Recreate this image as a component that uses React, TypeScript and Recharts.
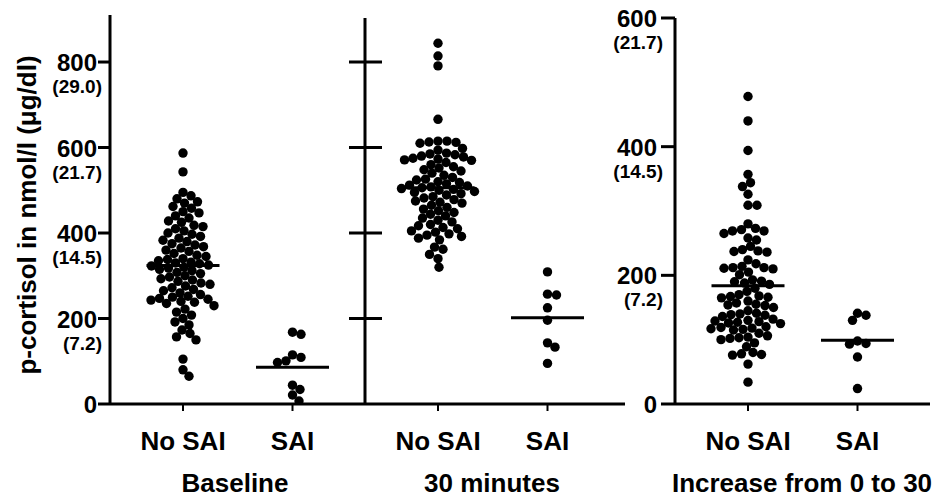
import { ScatterChart, Scatter, XAxis, YAxis, ReferenceLine } from "recharts";

const categories = ["No SAI", "SAI"];
const categoryPos = [1, 2.5];
const panelTitles = ["Baseline", "30 minutes", "Increase from 0 to 30"];
const yTitle = "p-cortisol in nmol/l (μg/dl)";

const ticksNmol = [0, 200, 400, 600, 800];
const ticksUg = ["", "(7.2)", "(14.5)", "(21.7)", "(29.0)"];
const ticksIncrease = [0, 200, 400, 600];
const ticksIncreaseUg = ["", "(7.2)", "(14.5)", "(21.7)"];

const baselineNoSai = [
  587, 543, 495, 487, 480, 473, 470, 462, 458, 450, 447, 440, 435, 428, 425, 418,
  415, 410, 405, 400, 397, 392, 388, 383, 380, 375, 372, 368, 365, 360, 357, 352,
  348, 345, 340, 338, 335, 332, 330, 328, 325, 323, 320, 318, 315, 312, 308, 305,
  300, 297, 293, 290, 287, 283, 280, 276, 272, 268, 265, 260, 256, 252, 250, 247,
  245, 243, 240, 238, 235, 230, 222, 215, 208, 200, 192, 185, 173, 165, 157, 150,
  105, 80, 65,
];
const baselineSai = [168, 163, 115, 109, 101, 97, 44, 34, 21, 7];

const min30NoSai = [
  844, 814, 791, 666, 615, 615, 613, 612, 610, 598, 594, 587, 585, 583, 580, 578,
  575, 573, 571, 570, 565, 560, 555, 552, 548, 545, 540, 535, 530, 526, 524, 520,
  518, 515, 512, 510, 508, 506, 504, 502, 500, 497, 495, 492, 489, 485, 482, 478,
  475, 472, 470, 465, 460, 456, 452, 448, 444, 440, 435, 430, 426, 420, 417, 413,
  410, 405, 402, 398, 395, 392, 388, 384, 367, 362, 350, 340, 320,
];
const min30Sai = [309, 257, 255, 225, 196, 143, 133, 95];

const increaseNoSai = [
  478, 440, 394, 357, 344, 338, 326, 309, 309, 280, 273, 271, 269, 269, 265, 258,
  255, 245, 240, 238, 237, 236, 224, 218, 214, 212, 212, 211, 210, 205, 201, 193,
  191, 190, 188, 186, 180, 175, 170, 168, 167, 166, 165, 160, 157, 155, 154, 153,
  150, 145, 141, 140, 139, 138, 136, 132, 130, 129, 128, 127, 126, 125, 120, 119,
  118, 117, 116, 115, 110, 106, 104, 103, 102, 100, 95, 89, 80, 78, 77, 76, 62, 34,
];
const increaseSai = [141, 138, 130, 98, 94, 93, 73, 24];

const baselineMeans = [324, 86];
const min30Means = [506, 202];
const increaseMeans = [184, 99];

const FONT = "'Liberation Sans', Arial, sans-serif";
const AXIS_Y = 404;
const UNIT_PX = 73;
const DOT_R = 4.7;

// simple beeswarm: push each point sideways until it doesn't collide
function swarm(values: number[], center: number, pxY: number) {
  const sorted = [...values].sort((a, b) => b - a);
  const placed: { x: number; y: number }[] = [];
  const gap = 8.6;
  return sorted.map((v) => {
    const y = v * pxY;
    let off = 0;
    for (let k = 0; k < 400; k++) {
      const c = k === 0 ? 0 : (k % 2 ? 1 : -1) * Math.ceil(k / 2) * 0.5;
      if (placed.every((p) => (p.x - c) ** 2 + (p.y - y) ** 2 >= gap * gap)) {
        off = c;
        break;
      }
    }
    placed.push({ x: off, y });
    return { x: center + off / UNIT_PX, y: v };
  });
}

const YTick = (props: any) => {
  const { y, payload, axisX, values, subs, cross, labels, tickLen, labelGap, subGap } = props;
  const i = values.indexOf(payload.value);
  const sub = subs[i];
  const showTick = !cross || payload.value !== 0;
  return (
    <g>
      {showTick && (
        <line x1={axisX - tickLen} x2={cross ? axisX + 17 : axisX} y1={y} y2={y} stroke="#000" strokeWidth={3} />
      )}
      {labels && (
        <text x={axisX - labelGap} y={y + 9} textAnchor="end" fontSize={24} fontWeight="bold" fontFamily={FONT} fill="#000">
          {payload.value}
        </text>
      )}
      {labels && sub && (
        <text x={axisX - subGap} y={y + 31} textAnchor="end" fontSize={19} fontWeight="bold" fontFamily={FONT} fill="#000">
          {sub}
        </text>
      )}
    </g>
  );
};

const XTick = (props: any) => {
  const { x, payload } = props;
  const i = categoryPos.indexOf(payload.value);
  return (
    <g>
      <line x1={x} x2={x} y1={AXIS_Y} y2={AXIS_Y + 7} stroke="#000" strokeWidth={2} />
      <text x={x} y={AXIS_Y + 46} textAnchor="middle" fontSize={26} fontWeight="bold" fontFamily={FONT} fill="#000">
        {categories[i]}
      </text>
    </g>
  );
};

type PanelProps = {
  left: number;
  right: number;
  top: number;
  yMax: number;
  ticks: number[];
  subs: string[];
  cross: boolean;
  labels: boolean;
  tickLen: number;
  labelGap: number;
  subGap: number;
  groups: number[][];
  means: number[];
  title: string;
  titleX: number;
  showYTitle?: boolean;
};

function Panel(p: PanelProps) {
  const width = p.right - p.left;
  const xMax = width / UNIT_PX;
  const pxY = (AXIS_Y - p.top) / p.yMax;
  const series = p.groups.map((vals, gi) => swarm(vals, categoryPos[gi], pxY));

  return (
    <div style={{ position: "absolute", left: 0, top: 0 }}>
      <ScatterChart
        width={940}
        height={501}
        margin={{ top: p.top, right: 940 - p.right, bottom: 0, left: p.left - 60 }}
      >
        <XAxis
          type="number"
          dataKey="x"
          domain={[0, xMax]}
          ticks={categoryPos}
          interval={0}
          allowDataOverflow
          height={97}
          axisLine={{ stroke: "#000", strokeWidth: 3 }}
          tickLine={false}
          tick={<XTick />}
          label={{
            content: () => (
              <text x={p.titleX} y={492} textAnchor="middle" fontSize={26} fontWeight="bold" fontFamily={FONT} fill="#000">
                {p.title}
              </text>
            ),
          }}
        />
        <YAxis
          type="number"
          dataKey="y"
          domain={[0, p.yMax]}
          ticks={p.ticks}
          interval={0}
          allowDataOverflow
          width={60}
          axisLine={{ stroke: "#000", strokeWidth: 3 }}
          tickLine={false}
          tick={
            <YTick
              axisX={p.left}
              values={p.ticks}
              subs={p.subs}
              cross={p.cross}
              labels={p.labels}
              tickLen={p.tickLen}
              labelGap={p.labelGap}
              subGap={p.subGap}
            />
          }
          label={
            p.showYTitle
              ? {
                  content: () => (
                    <text
                      transform="rotate(-90)"
                      x={-215}
                      y={36}
                      textAnchor="middle"
                      fontSize={26}
                      fontWeight="bold"
                      fontFamily={FONT}
                      fill="#000"
                    >
                      {yTitle}
                    </text>
                  ),
                }
              : undefined
          }
        />
        {series.map((data, gi) => (
          <Scatter
            key={gi}
            data={data}
            isAnimationActive={false}
            shape={(s: any) => <circle cx={s.cx} cy={s.cy} r={DOT_R} fill="#000" />}
          />
        ))}
        {p.means.map((m, gi) => (
          <ReferenceLine
            key={"m" + gi}
            segment={[
              { x: categoryPos[gi] - 0.5, y: m },
              { x: categoryPos[gi] + 0.5, y: m },
            ]}
            stroke="#000"
            strokeWidth={3}
          />
        ))}
      </ScatterChart>
    </div>
  );
}

export default function App() {
  return (
    <div style={{ position: "absolute", left: 0, top: 0, width: 940, height: 501, background: "#fff" }}>
      <Panel
        left={110}
        right={365}
        top={15}
        yMax={910}
        ticks={ticksNmol}
        subs={ticksUg}
        cross={false}
        labels
        tickLen={12}
        labelGap={13}
        subGap={8}
        groups={[baselineNoSai, baselineSai]}
        means={baselineMeans}
        title={panelTitles[0]}
        titleX={235}
        showYTitle
      />
      <Panel
        left={365}
        right={625}
        top={18}
        yMax={903}
        ticks={ticksNmol}
        subs={ticksUg}
        cross
        labels={false}
        tickLen={16}
        labelGap={13}
        subGap={8}
        groups={[min30NoSai, min30Sai]}
        means={min30Means}
        title={panelTitles[1]}
        titleX={492}
      />
      <Panel
        left={675}
        right={930}
        top={18}
        yMax={600}
        ticks={ticksIncrease}
        subs={ticksIncreaseUg}
        cross={false}
        labels
        tickLen={14}
        labelGap={18}
        subGap={12}
        groups={[increaseNoSai, increaseSai]}
        means={increaseMeans}
        title={panelTitles[2]}
        titleX={802}
      />
    </div>
  );
}
